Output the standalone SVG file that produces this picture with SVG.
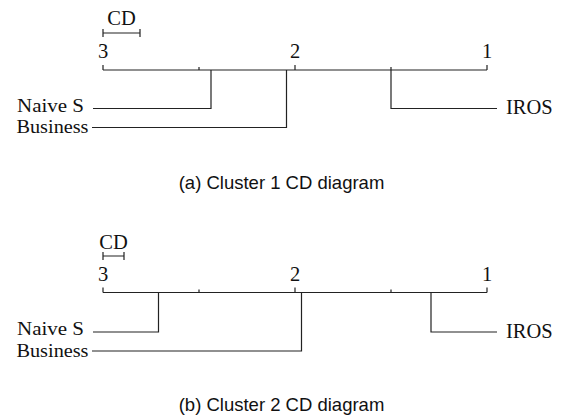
<svg xmlns="http://www.w3.org/2000/svg" width="563" height="416" viewBox="0 0 563 416">
<style>
.ln{stroke:#222;stroke-width:1.2;fill:none}
.t{font-family:"Liberation Serif","DejaVu Serif",serif;font-size:20.5px;fill:#111}
.l{font-size:19px}
.c{font-family:"Liberation Sans","DejaVu Sans",sans-serif;font-size:18.5px;fill:#111;text-anchor:middle}
.n{text-anchor:middle}
.e{text-anchor:end}
</style>
<rect width="563" height="416" fill="#fff"/>
<g id="panelA">
  <g id="axisA">
    <path class="ln" d="M103,70H487M103,65V70M199,67V70M295,65V70M391,67V70M487,65V70"/>
    <text class="t n" x="103" y="58">3</text>
    <text class="t n" x="295" y="58">2</text>
    <text class="t n" x="487" y="58">1</text>
  </g>
  <g id="cdA">
    <path class="ln" d="M103,33H140M103,29V37M140,29V37"/>
    <text class="t n" x="121.5" y="25">CD</text>
  </g>
  <g id="naiveA"><text class="t l e" x="84" y="111.5" textLength="67" lengthAdjust="spacingAndGlyphs">Naive S</text></g>
  <g id="businessA"><text class="t l e" x="88.5" y="133" textLength="72" lengthAdjust="spacingAndGlyphs">Business</text></g>
  <g id="irosA"><text class="t" x="506" y="114">IROS</text></g>
  <g id="connectorsA">
    <path class="ln" d="M93,108.5H211V70"/>
    <path class="ln" d="M92,127.5H286.5V70"/>
    <path class="ln" d="M497,108.5H391V70"/>
  </g>
  <text class="c" x="281.5" y="189">(a) Cluster 1 CD diagram</text>
</g>
<g id="panelB">
  <g id="axisB">
    <path class="ln" d="M103,292.5H487M103,287.5V292.5M199,289.5V292.5M295,287.5V292.5M391,289.5V292.5M487,287.5V292.5"/>
    <text class="t n" x="103" y="280.5">3</text>
    <text class="t n" x="295" y="280.5">2</text>
    <text class="t n" x="487" y="280.5">1</text>
  </g>
  <g id="cdB">
    <path class="ln" d="M103,256H124M103,252V260M124,252V260"/>
    <text class="t n" x="113.5" y="249">CD</text>
  </g>
  <g id="naiveB"><text class="t l e" x="84" y="335" textLength="67" lengthAdjust="spacingAndGlyphs">Naive S</text></g>
  <g id="businessB"><text class="t l e" x="88.5" y="356.5" textLength="72" lengthAdjust="spacingAndGlyphs">Business</text></g>
  <g id="irosB"><text class="t" x="506" y="337.5">IROS</text></g>
  <g id="connectorsB">
    <path class="ln" d="M93,332H158.5V292.5"/>
    <path class="ln" d="M92,351H301.5V292.5"/>
    <path class="ln" d="M497,332H431V292.5"/>
  </g>
  <text class="c" x="281.5" y="411">(b) Cluster 2 CD diagram</text>
</g>
</svg>
